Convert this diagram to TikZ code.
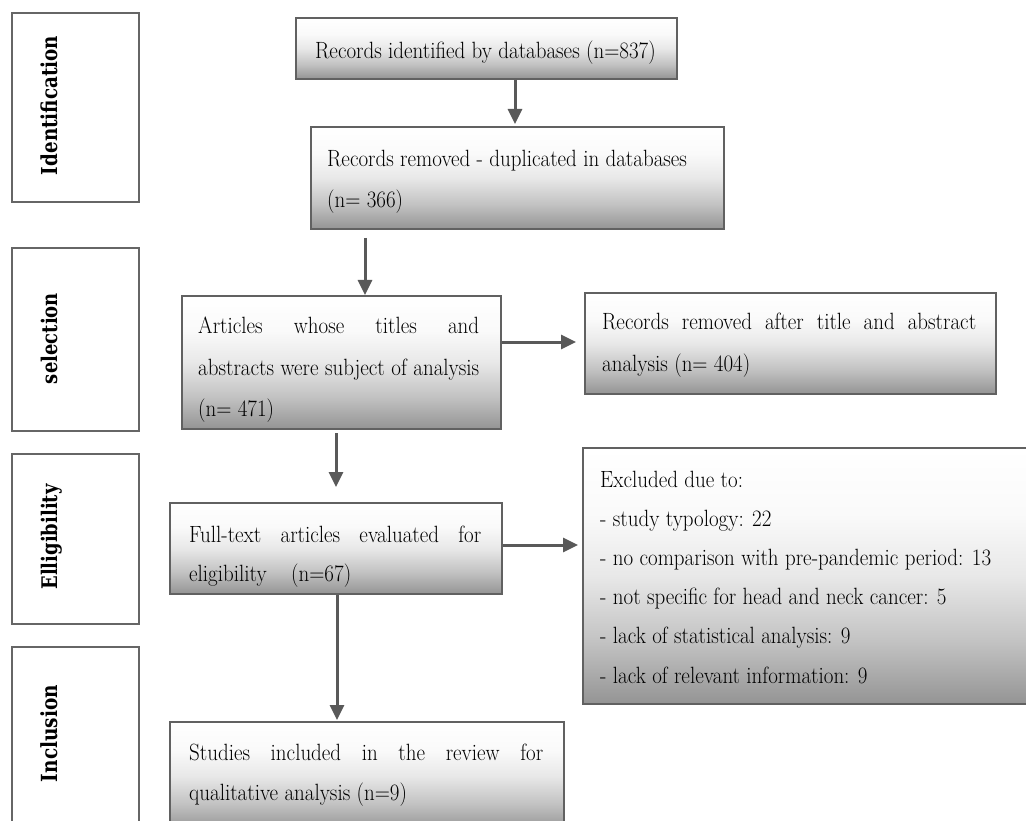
\documentclass[tikz,border=0pt]{standalone}
\usepackage{fontspec}
\usepackage{graphicx}
\newfontfamily\labfont{DejaVu Serif}
\usetikzlibrary{arrows.meta}
\newcommand{\tl}[1]{\scalebox{1}[1.12]{#1}}
\newcommand{\jl}[2]{\scalebox{1}[1.12]{\makebox[#1][s]{#2}}}
\pgfdeclareverticalshading{boxshade}{100bp}{color(0bp)=(black!42); color(25bp)=(black!42);
  color(37bp)=(black!24); color(50bp)=(black!9); color(62bp)=(black!2); color(75bp)=(white); color(100bp)=(white)}
\tikzset{
  stagebox/.style={draw=black!60, line width=1.5pt, fill=white, inner sep=0pt},
  lab/.style={rotate=90, anchor=base, inner sep=0pt, font=\labfont\fontsize{18}{22}\selectfont\bfseries},
  flow/.style={draw=black!62, line width=2pt, shading=boxshade, inner sep=0pt},
  txt/.style={anchor=base west, inner sep=0pt, font=\fontsize{21}{25}\selectfont},
  arr/.style={line width=3pt, draw=black!65, -{Triangle[width=14pt,length=15pt]}},
}
\begin{document}
\begin{tikzpicture}[x=1pt,y=-1pt]
\useasboundingbox (0,0) rectangle (1026,821);
% stage boxes
\node[stagebox, minimum width=127pt, minimum height=189pt] (ident) at (75.5,107.5) {};
\node[stagebox, minimum width=127pt, minimum height=183pt] (sel) at (75.5,339.5) {};
\node[stagebox, minimum width=127pt, minimum height=170pt] (elig) at (75.5,539) {};
\node[stagebox, minimum width=127pt, minimum height=213pt] (incl) at (75.5,753.5) {};
\node[lab] (identl) at (57,105.5) {\resizebox{139pt}{!}{\scalebox{1}[1.2]{Identification}}};
\node[lab] (sell) at (57,338.5) {\resizebox{91pt}{!}{\scalebox{1}[1.2]{selection}}};
\node[lab] (eligl) at (57,537) {\resizebox{105pt}{!}{\scalebox{1}[1.2]{Elligibility}}};
\node[lab] (incll) at (57,733.5) {\resizebox{97pt}{!}{\scalebox{1}[1.2]{Inclusion}}};
% flow boxes
\node[flow, minimum width=381pt, minimum height=61pt] (b1) at (486.5,48.5) {};
\node[flow, minimum width=413pt, minimum height=102pt] (b2) at (517.5,178) {};
\node[flow, minimum width=319pt, minimum height=133pt] (art) at (341.5,362.5) {};
\node[flow, minimum width=411pt, minimum height=101pt] (rem) at (790.5,343.5) {};
\node[flow, minimum width=332pt, minimum height=91pt] (full) at (336,548.5) {};
\node[flow, minimum width=458pt, minimum height=256pt] (excl) at (812,576) {};
\node[flow, minimum width=394pt, minimum height=108pt] (stud) at (367,776) {};
% texts
\node[txt] (b1t) at (315,59) {\tl{Records identified by databases (n=837)}};
\node[txt] (b2t1) at (327,167) {\tl{Records removed - duplicated in databases}};
\node[txt] (b2t2) at (327,208) {\tl{(n= 366)}};
\node[txt] (artt1) at (198,334) {\jl{281pt}{Articles whose titles and}};
\node[txt] (artt2) at (198,375) {\jl{281pt}{abstracts were subject of analysis}};
\node[txt] (artt3) at (198,416) {\tl{(n= 471)}};
\node[txt] (remt1) at (602,330) {\jl{374pt}{Records removed after title and abstract}};
\node[txt] (remt2) at (602,371) {\tl{analysis (n= 404)}};
\node[txt] (fullt1) at (189,542) {\jl{292pt}{Full-text articles evaluated for}};
\node[txt] (fullt2) at (189,581) {\tl{\makebox[102pt][l]{eligibility}(n=67)}};
\node[txt] (exclt1) at (600,487) {\tl{Excluded due to:}};
\node[txt] (exclt2) at (600,526) {\tl{- study typology: 22}};
\node[txt] (exclt3) at (600,565) {\tl{- no comparison with pre-pandemic period: 13}};
\node[txt] (exclt4) at (600,604) {\tl{- not specific for head and neck cancer: 5}};
\node[txt] (exclt5) at (600,643) {\tl{- lack of statistical analysis: 9}};
\node[txt] (exclt6) at (600,683) {\tl{- lack of relevant information: 9}};
\node[txt] (studt1) at (189,760) {\jl{354pt}{Studies included in the review for}};
\node[txt] (studt2) at (189,800) {\tl{qualitative analysis (n=9)}};
% guide coordinates
\coordinate (c1) at (515,0);
\coordinate (c2) at (365,238);
\coordinate (c3) at (0,342);
\coordinate (c4) at (336,0);
\coordinate (c5) at (0,545);
\coordinate (c6) at (337,0);
% arrows
\draw[arr, shorten >=2pt] (b1.south -| c1) -- (b2.north -| c1);
\draw[arr] (c2) -- (art.north -| c2);
\draw[arr, shorten >=8pt] (art.east |- c3) -- (rem.west |- c3);
\draw[arr, shorten <=3pt, shorten >=15pt] (art.south -| c4) -- (full.north -| c4);
\draw[arr, shorten >=4pt] (full.east |- c5) -- (excl.west |- c5);
\draw[arr, shorten >=1pt] (full.south -| c6) -- (stud.north -| c6);
\end{tikzpicture}
\end{document}
